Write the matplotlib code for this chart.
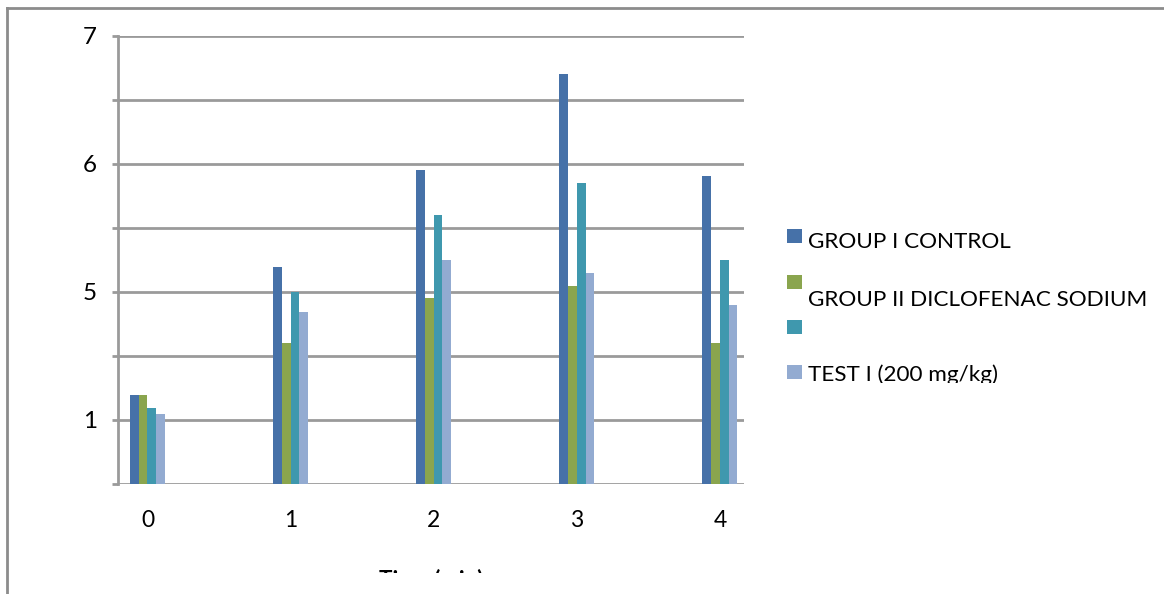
import matplotlib
matplotlib.use("Agg")
import matplotlib.pyplot as plt
import numpy as np
from matplotlib.patches import Rectangle
from matplotlib.lines import Line2D
from matplotlib.transforms import Bbox, TransformedBbox

# ---- data ----
time_points = ["0", "1", "2", "3", "4"]
series_names = ["GROUP I CONTROL", "GROUP II DICLOFENAC SODIUM", "", "TEST I (200 mg/kg)"]
group_control = [1.39, 3.39, 4.90, 6.40, 4.81]
group_diclofenac = [1.39, 2.20, 2.90, 3.09, 2.20]
group_third = [1.19, 3.00, 4.20, 4.70, 3.50]
group_test = [1.09, 2.69, 3.50, 3.30, 2.80]
ytick_values = [7, 5, 3, 1]
ytick_labels = ["7", "6", "5", "1"]
x_title = "Time (min)"

colors = ["#4671A8", "#8AA54E", "#3F98AE", "#93ABD1"]
series = [group_control, group_diclofenac, group_third, group_test]

W, H = 1164, 594
fig = plt.figure(figsize=(W / 100, H / 100), dpi=100)
plt.rcParams["font.family"] = ["Lato", "DejaVu Sans"]

def fx(px):
    return px / W

def fy(py):
    return 1 - py / H

ax = fig.add_axes([fx(118), fy(484), fx(744) - fx(118), fy(36) - fy(484)])

x = np.arange(len(time_points))
bw = 0.061
for i, (vals, c) in enumerate(zip(series, colors)):
    ax.bar(x + (i - 1.5) * bw, vals, width=bw, color=c, edgecolor="none",
           zorder=3)

ax.set_xlim(-0.206, 4.168)
ax.set_ylim(0, 7)
grid_c = "#9A9A9A"
for v in range(0, 8):
    ax.axhline(v, color=grid_c, lw=2, zorder=1)
ax.set_yticks(range(0, 8))
ax.set_yticklabels([ytick_labels[ytick_values.index(v)] if v in ytick_values else ""
                    for v in range(0, 8)], fontsize=17.5)
ax.tick_params(axis="y", length=4, width=2, color=grid_c, pad=11)
ax.set_xticks(x)
ax.set_xticklabels(time_points, fontsize=16.5)
ax.tick_params(axis="x", length=0, pad=19)
for s in ["top", "right", "bottom"]:
    ax.spines[s].set_visible(False)
ax.spines["left"].set_color(grid_c)
ax.spines["left"].set_linewidth(2)

# x-axis title, cut off by the lower edge of the chart area
clip = TransformedBbox(Bbox([[0, fy(573)], [1, 1]]), fig.transFigure)
t = fig.text(fx(431), fy(569), x_title, ha="center", va="top",
             fontsize=16, fontweight="bold")
t.set_clip_box(clip)
t.set_clip_on(True)

# legend
sq_tops = [229, 275, 320, 365]
text_base = [248, 306, None, 381]
leg_clip = TransformedBbox(Bbox([[0, fy(383)], [1, 1]]), fig.transFigure)
for name, c, top, base in zip(series_names, colors, sq_tops, text_base):
    fig.add_artist(Rectangle((fx(787), fy(top + 14)), fx(15), fy(top) - fy(top + 14),
                             transform=fig.transFigure, color=c, lw=0))
    if name and base is not None:
        tt = fig.text(fx(808), fy(base), name, ha="left", va="baseline",
                      fontsize=16.2)
        tt.set_clip_box(leg_clip)
        tt.set_clip_on(True)

# chart frame
frame_c = "#8C8C8C"
fig.add_artist(Line2D([fx(7), fx(7)], [0, fy(8)], transform=fig.transFigure,
                      color=frame_c, lw=2))
fig.add_artist(Line2D([fx(7), 1], [fy(8), fy(8)], transform=fig.transFigure,
                      color=frame_c, lw=2))

fig.savefig("out.png", dpi=100)
